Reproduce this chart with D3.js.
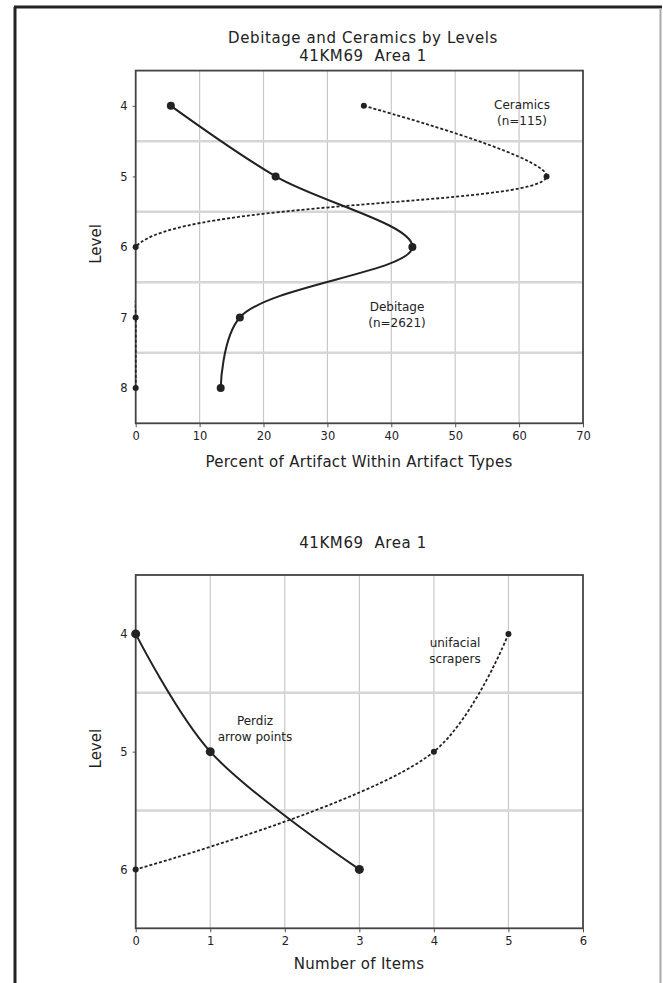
<!DOCTYPE html>
<html>
<head>
<meta charset="utf-8">
<script src="https://cdn.jsdelivr.net/npm/d3@7"></script>
<style>
  body { margin: 0; background: #fff; }
  svg text { font-family: "DejaVu Sans", sans-serif; fill: #222; }
</style>
</head>
<body>
<div id="chart"></div>
<script>
//****data****
const topLevels = [4, 5, 6, 7, 8];
const debitagePct = [5.5, 21.9, 43.3, 16.3, 13.3];
const ceramicsPct = [35.7, 64.3, 0, 0, 0];
const topXTicks = [0, 10, 20, 30, 40, 50, 60, 70];
const topGridLevels = [4.5, 5.5, 6.5, 7.5];

const bottomLevels = [4, 5, 6];
const perdizCount = [0, 1, 3];
const scraperCount = [5, 4, 0];
const bottomXTicks = [0, 1, 2, 3, 4, 5, 6];
const bottomGridLevels = [4.5, 5.5];

//****configuration****
const w = 663;
const h = 983;
const ink = "#222";
const curveAlpha = 0.5;

const svg = d3.select("#chart")
    .append("svg")
    .attr("width", w)
    .attr("height", h);

// page frame (scanned sheet)
svg.append("line").attr("x1", 15).attr("y1", 7).attr("x2", 15).attr("y2", h)
    .attr("stroke", ink).attr("stroke-width", 3);
svg.append("line").attr("x1", 14).attr("y1", 7).attr("x2", 662).attr("y2", 7)
    .attr("stroke", ink).attr("stroke-width", 3);
svg.append("line").attr("x1", 660.5).attr("y1", 8).attr("x2", 660.5).attr("y2", h)
    .attr("stroke", "#aaa").attr("stroke-width", 2);

let panelCount = 0;

function drawPanel(opt) {
    panelCount++;
    const x = d3.scaleLinear().domain(opt.xDomain).range([135.7, 583]);
    const y = d3.scaleLinear().domain(opt.yDomain).range([opt.top, opt.bottom]);
    const g = svg.append("g");

    // keep the spline from swinging out past the left axis
    const clipId = "clip-" + panelCount;
    svg.append("clipPath").attr("id", clipId)
        .append("rect")
        .attr("x", x.range()[0] - 1).attr("y", opt.top)
        .attr("width", x.range()[1] - x.range()[0] + 1)
        .attr("height", opt.bottom - opt.top);

    // gridlines
    g.selectAll(".vgrid")
        .data(opt.xTicks.slice(1, -1))
        .enter().append("line")
        .attr("x1", d => x(d)).attr("x2", d => x(d))
        .attr("y1", opt.top).attr("y2", opt.bottom)
        .attr("stroke", "#c8c8c8").attr("stroke-width", 1.2);
    g.selectAll(".hgrid")
        .data(opt.gridLevels)
        .enter().append("line")
        .attr("x1", x.range()[0]).attr("x2", x.range()[1])
        .attr("y1", d => y(d)).attr("y2", d => y(d))
        .attr("stroke", "#d6d6d6").attr("stroke-width", 2.5);

    // axes
    const xAxis = g.append("g")
        .attr("transform", "translate(0," + opt.bottom + ")")
        .call(d3.axisBottom(x).tickValues(opt.xTicks).tickFormat(d3.format("d"))
            .tickSize(4).tickPadding(5));
    const yAxis = g.append("g")
        .attr("transform", "translate(" + x.range()[0] + ",0)")
        .call(d3.axisLeft(y).tickValues(opt.levels).tickFormat(d3.format("d"))
            .tickSize(3).tickPadding(5));
    [xAxis, yAxis].forEach(a => {
        a.select(".domain").remove();
        a.selectAll("line").attr("stroke", "#555");
        a.selectAll("text").attr("font-size", 11.5).attr("fill", "#333")
            .attr("font-family", "DejaVu Sans");
    });

    // plot box
    g.append("rect")
        .attr("x", x.range()[0]).attr("y", opt.top)
        .attr("width", x.range()[1] - x.range()[0])
        .attr("height", opt.bottom - opt.top)
        .attr("fill", "none").attr("stroke", "#444").attr("stroke-width", 1.8);

    // series
    opt.series.forEach(s => {
        const pts = opt.levels.map((lv, i) => [x(s.values[i]), y(lv)]);
        g.append("path")
            .attr("d", d3.line().curve(d3.curveCatmullRom.alpha(curveAlpha))(pts))
            .attr("clip-path", "url(#" + clipId + ")")
            .attr("fill", "none")
            .attr("stroke", ink)
            .attr("stroke-width", s.dotted ? 1.8 : 2)
            .attr("stroke-dasharray", s.dotted ? "3,2" : null);
        g.selectAll(null)
            .data(pts)
            .enter().append("circle")
            .attr("cx", d => d[0]).attr("cy", d => d[1])
            .attr("r", s.r)
            .attr("fill", ink);
        g.append("text")
            .attr("x", s.labelX).attr("y", s.labelY)
            .attr("text-anchor", "middle")
            .attr("font-size", 12)
            .selectAll("tspan")
            .data(s.label)
            .enter().append("tspan")
            .attr("x", s.labelX)
            .attr("dy", (d, i) => i ? 16 : 0)
            .text(d => d);
    });

    // titles
    const t = g.append("text")
        .attr("x", 363).attr("y", opt.titleY)
        .attr("text-anchor", "middle")
        .attr("font-size", 15)
        .attr("letter-spacing", 0.6);
    t.selectAll("tspan")
        .data(opt.title)
        .enter().append("tspan")
        .attr("x", 363)
        .attr("dy", (d, i) => i ? 18 : 0)
        .style("white-space", "pre")
        .text(d => d);

    g.append("text")
        .attr("x", 359).attr("y", opt.bottom + opt.xLabelGap)
        .attr("text-anchor", "middle")
        .attr("font-size", 15)
        .attr("letter-spacing", 0.3)
        .text(opt.xLabel);

    g.append("text")
        .attr("transform", "translate(101," + ((opt.top + opt.bottom) / 2 - 3) + ") rotate(-90)")
        .attr("text-anchor", "middle")
        .attr("font-size", 15)
        .text("Level");
}

drawPanel({
    xDomain: [0, 70],
    yDomain: [3.5, 8.5],
    top: 70.6,
    bottom: 423.3,
    levels: topLevels,
    xTicks: topXTicks,
    gridLevels: topGridLevels,
    title: ["Debitage and Ceramics by Levels", "41KM69  Area 1"],
    titleY: 43,
    xLabel: "Percent of Artifact Within Artifact Types",
    xLabelGap: 44,
    series: [
        { values: debitagePct, dotted: false, r: 4, label: ["Debitage", "(n=2621)"], labelX: 397, labelY: 311 },
        { values: ceramicsPct, dotted: true, r: 3, label: ["Ceramics", "(n=115)"], labelX: 522, labelY: 109 }
    ]
});

drawPanel({
    xDomain: [0, 6],
    yDomain: [3.5, 6.5],
    top: 575,
    bottom: 928.3,
    levels: bottomLevels,
    xTicks: bottomXTicks,
    gridLevels: bottomGridLevels,
    title: ["41KM69  Area 1"],
    titleY: 548,
    xLabel: "Number of Items",
    xLabelGap: 41,
    series: [
        { values: perdizCount, dotted: false, r: 4.5, label: ["Perdiz", "arrow points"], labelX: 255, labelY: 725 },
        { values: scraperCount, dotted: true, r: 3, label: ["unifacial", "scrapers"], labelX: 455, labelY: 647 }
    ]
});
</script>
</body>
</html>
